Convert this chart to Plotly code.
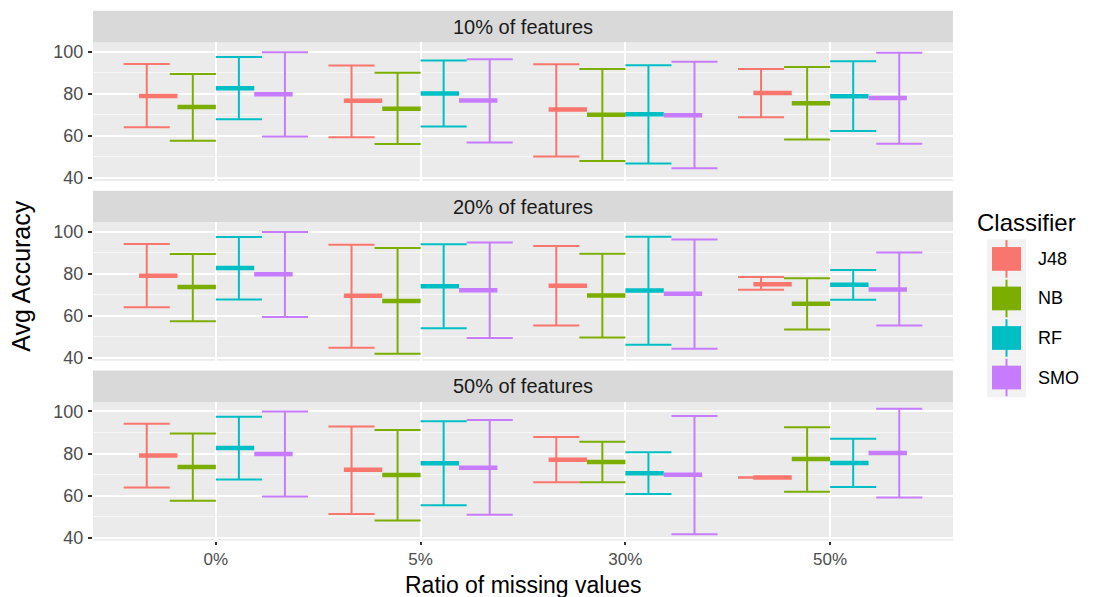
import plotly.graph_objects as go

# Categories
ratios = ["0%", "5%", "30%", "50%"]
classifiers = ["J48", "NB", "RF", "SMO"]
facets = ["10% of features", "20% of features", "50% of features"]
colors = ["#F8766D", "#7CAE00", "#00BFC4", "#C77CFF"]

# Accuracy summaries: one row per classifier, one column per ratio of missing values
low_10 = [[64.1, 59.3, 50.2, 68.9], [57.7, 56.1, 48.0, 58.3], [67.9, 64.4, 46.8, 62.3], [59.7, 56.9, 44.6, 56.3]]
mean_10 = [[79.0, 76.7, 72.5, 80.4], [73.7, 72.9, 70.0, 75.5], [82.6, 80.1, 70.3, 78.8], [79.8, 76.8, 69.8, 78.0]]
high_10 = [[94.2, 93.5, 94.0, 91.8], [89.4, 90.0, 91.8, 92.7], [97.5, 95.8, 93.6, 95.5], [99.8, 96.4, 95.2, 99.5]]

low_20 = [[64.0, 44.8, 55.4, 72.4], [57.4, 41.9, 49.6, 53.5], [67.7, 54.1, 46.2, 67.6], [59.4, 49.4, 44.3, 55.3]]
mean_20 = [[79.0, 69.5, 74.3, 75.0], [73.6, 67.0, 69.6, 65.7], [82.7, 74.0, 72.0, 74.7], [79.7, 72.1, 70.4, 72.5]]
high_20 = [[94.1, 93.8, 93.2, 78.4], [89.4, 92.2, 89.5, 77.8], [97.4, 94.0, 97.6, 81.8], [99.8, 94.8, 96.3, 90.1]]

low_50 = [[63.9, 51.3, 66.3, 68.6], [57.5, 48.2, 66.3, 61.8], [67.6, 55.4, 60.7, 64.1], [59.6, 50.9, 41.6, 59.1]]
mean_50 = [[79.1, 72.3, 77.1, 68.6], [73.6, 69.8, 76.0, 77.4], [82.6, 75.4, 70.6, 75.5], [79.8, 73.2, 69.9, 80.3]]
high_50 = [[94.2, 92.9, 87.9, 68.6], [89.5, 91.2, 85.6, 92.5], [97.5, 95.3, 80.6, 87.0], [100.0, 96.0, 97.8, 101.3]]

panel_data = [(low_10, mean_10, high_10), (low_20, mean_20, high_20), (low_50, mean_50, high_50)]

# Dodge geometry (in category units)
ERR_DODGE = 0.9
MEAN_DODGE = 0.75
n_cls = len(classifiers)

W, H = 1113, 597
FONT = "Liberation Sans"
TICK_SIZE = 17
STRIP_SIZE = 20
TITLE_SIZE = 23

# Pixel layout of the facet panels
PX_LEFT, PX_RIGHT = 93, 953
PANEL_TOPS = [43, 225, 407]
PANEL_H = 140
STRIP_H = 32


def px_x(p):
    return p / W


def px_y(p):
    return 1 - p / H


fig = go.Figure()

err_traces, mean_traces = [], []
for f, (lows, means, highs) in enumerate(panel_data):
    ax = "" if f == 0 else str(f + 1)
    for c in range(n_cls):
        # whiskers with caps
        off = (c - (n_cls - 1) / 2) * ERR_DODGE / n_cls
        half = ERR_DODGE / n_cls / 2
        xs, ys = [], []
        for r in range(len(ratios)):
            x0 = r + 1 + off
            lo, hi = lows[c][r], highs[c][r]
            xs += [x0 - half, x0 + half, None, x0, x0, None, x0 - half, x0 + half, None]
            ys += [hi, hi, None, lo, hi, None, lo, lo, None]
        err_traces.append(go.Scatter(
            x=xs, y=ys, mode="lines", xaxis="x" + ax, yaxis="y" + ax,
            line=dict(color=colors[c], width=2), showlegend=False, hoverinfo="skip"))

        # mean bars
        moff = (c - (n_cls - 1) / 2) * MEAN_DODGE / n_cls
        mhalf = MEAN_DODGE / n_cls / 2
        mx, my = [], []
        for r in range(len(ratios)):
            x0 = r + 1 + moff
            mx += [x0 - mhalf, x0 + mhalf, None]
            my += [means[c][r], means[c][r], None]
        mean_traces.append(go.Scatter(
            x=mx, y=my, mode="lines", xaxis="x" + ax, yaxis="y" + ax,
            line=dict(color=colors[c], width=4.5), showlegend=False,
            name=classifiers[c], hovertemplate="%{y}<extra>" + classifiers[c] + "</extra>"))

for t in err_traces + mean_traces:
    fig.add_trace(t)

layout = dict(
    width=W, height=H,
    margin=dict(l=0, r=0, t=0, b=0),
    paper_bgcolor="white",
    plot_bgcolor="#EBEBEB",
    showlegend=False,
    font=dict(family=FONT, color="#4D4D4D"),
)

shapes, annotations = [], []
for f in range(len(facets)):
    ax = "" if f == 0 else str(f + 1)
    top = PANEL_TOPS[f]
    bottom = top + PANEL_H
    bottom_row = f == len(facets) - 1
    layout["xaxis" + ax] = dict(
        domain=[px_x(PX_LEFT), px_x(PX_RIGHT)], anchor="y" + ax,
        range=[0.4, 4.6], tickvals=[1, 2, 3, 4], ticktext=ratios,
        showgrid=True, gridcolor="white", gridwidth=1.8, zeroline=False,
        showline=False, ticks="outside" if bottom_row else "", ticklen=3,
        tickwidth=1.5, tickcolor="#333333", showticklabels=bottom_row,
        tickfont=dict(size=TICK_SIZE, color="#4D4D4D", family=FONT),
        ticklabelstandoff=0,
    )
    layout["yaxis" + ax] = dict(
        domain=[px_y(bottom), px_y(top)], anchor="x" + ax,
        range=[38.6, 104.4], tickvals=[40, 60, 80, 100],
        showgrid=True, gridcolor="white", gridwidth=1.8, zeroline=False,
        minor=dict(tickvals=[50, 70, 90], showgrid=True, gridcolor="#F7F7F7", gridwidth=1),
        ticks="outside", ticklen=4, tickwidth=1.5, tickcolor="#333333",
        tickfont=dict(size=TICK_SIZE + 1, color="#4D4D4D", family=FONT),
        ticklabelstandoff=1,
    )
    # facet strip
    shapes.append(dict(type="rect", xref="paper", yref="paper",
                       x0=px_x(PX_LEFT), x1=px_x(PX_RIGHT),
                       y0=px_y(top), y1=px_y(top - STRIP_H),
                       fillcolor="#D9D9D9", line=dict(width=0), layer="below"))
    annotations.append(dict(text=facets[f], xref="paper", yref="paper",
                            x=px_x((PX_LEFT + PX_RIGHT) / 2), y=px_y(top - STRIP_H / 2),
                            showarrow=False, xanchor="center", yanchor="middle",
                            font=dict(size=STRIP_SIZE, color="#1A1A1A", family=FONT)))

# Axis titles
annotations.append(dict(text="Ratio of missing values", xref="paper", yref="paper",
                        x=px_x((PX_LEFT + PX_RIGHT) / 2), y=px_y(592), showarrow=False,
                        xanchor="center", yanchor="middle", borderpad=0,
                        font=dict(size=TITLE_SIZE, color="black", family=FONT)))
annotations.append(dict(text="Avg Accuracy", xref="paper", yref="paper",
                        x=px_x(21), y=px_y((PANEL_TOPS[0] - STRIP_H + PANEL_TOPS[-1] + PANEL_H) / 2),
                        showarrow=False, textangle=-90, xanchor="center", yanchor="middle",
                        font=dict(size=TITLE_SIZE + 2, color="black", family=FONT)))

# Legend
annotations.append(dict(text="Classifier", xref="paper", yref="paper",
                        x=px_x(975), y=px_y(225), showarrow=False,
                        xanchor="left", yanchor="middle",
                        font=dict(size=24, color="black", family=FONT)))
key_cy = [262, 302, 342, 382]
for c in range(n_cls):
    cy = key_cy[c]
    shapes.append(dict(type="rect", xref="paper", yref="paper",
                       x0=px_x(987), x1=px_x(1026), y0=px_y(cy + 20), y1=px_y(cy - 20),
                       fillcolor="#F2F2F2", line=dict(width=0)))
    shapes.append(dict(type="line", xref="paper", yref="paper",
                       x0=px_x(1006.5), x1=px_x(1006.5), y0=px_y(cy + 19), y1=px_y(cy - 19),
                       line=dict(color=colors[c], width=2)))
    shapes.append(dict(type="rect", xref="paper", yref="paper",
                       x0=px_x(992), x1=px_x(1021), y0=px_y(cy + 12), y1=px_y(cy - 12),
                       fillcolor=colors[c], line=dict(width=0)))
    annotations.append(dict(text=classifiers[c], xref="paper", yref="paper",
                            x=px_x(1036), y=px_y(cy), showarrow=False,
                            xanchor="left", yanchor="middle",
                            font=dict(size=18, color="black", family=FONT)))

layout["shapes"] = shapes
layout["annotations"] = annotations
fig.update_layout(**layout)

fig.write_html("out.html")
